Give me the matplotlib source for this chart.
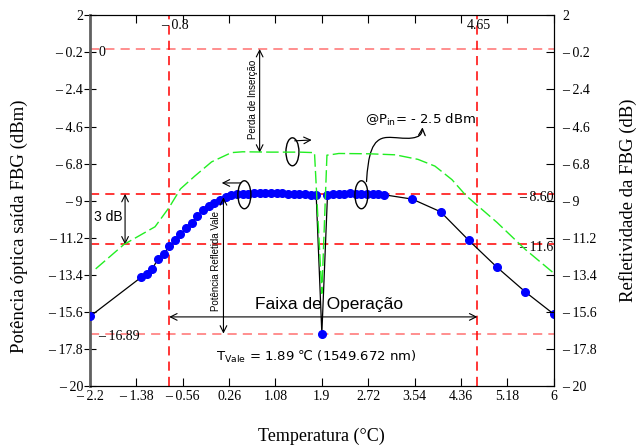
import numpy as np
import matplotlib.pyplot as plt
from matplotlib.patches import Ellipse, FancyArrowPatch
from matplotlib.path import Path

plt.rcParams['font.family'] = 'Liberation Serif'
plt.rcParams['mathtext.fontset'] = 'dejavusans'

# measured output power (dBm) vs temperature
temp = [-2.2, -1.3, -1.2, -1.1, -1.0, -0.9, -0.8, -0.7, -0.6, -0.5, -0.4, -0.3,
        -0.2, -0.1, 0.0, 0.1, 0.2, 0.3, 0.4, 0.5, 0.6, 0.7, 0.8, 0.9, 1.0, 1.1,
        1.2, 1.3, 1.4, 1.5, 1.6, 1.7, 1.8, 1.9, 2.0, 2.1, 2.2, 2.3, 2.4, 2.5,
        2.6, 2.7, 2.8, 2.9, 3.0, 3.5, 4.0, 4.5, 5.0, 5.5, 6.0]
power = [-15.87, -13.56, -13.34, -13.06, -12.47, -12.17, -11.72, -11.32, -10.99,
         -10.63, -10.30, -9.90, -9.54, -9.31, -9.11, -8.95, -8.79, -8.67, -8.62,
         -8.60, -8.58, -8.57, -8.56, -8.57, -8.56, -8.55, -8.57, -8.58, -8.60,
         -8.62, -8.63, -8.65, -8.66, -16.89, -8.66, -8.62, -8.60, -8.58, -8.57,
         -8.58, -8.59, -8.60, -8.62, -8.63, -8.65, -8.91, -9.66, -11.36, -12.96,
         -14.42, -15.73]

# FBG reflectivity (dB)
refl_t = [-2.1, -1.6, -1.05, -0.8, -0.6, -0.35, -0.05, 0.3, 0.5, 1.0, 1.5, 1.77,
          1.9, 1.99, 2.05, 2.2, 2.75, 3.2, 3.6, 3.9, 4.2, 4.45, 5.0, 5.5, 6.0]
refl = [-13.05, -11.6, -10.55, -9.4, -8.3, -7.55, -6.7, -6.15, -6.1, -6.12,
        -6.12, -6.15, -14.5, -6.3, -6.28, -6.2, -6.22, -6.28, -6.55, -6.95,
        -7.75, -8.7, -10.3, -11.9, -13.3]

xticks = [-2.2, -1.38, -0.56, 0.26, 1.08, 1.9, 2.72, 3.54, 4.36, 5.18, 6]
yticks = [2, -0.2, -2.4, -4.6, -6.8, -9, -11.2, -13.4, -15.6, -17.8, -20]

t_low, t_high = -0.8, 4.65
p_ref, p_max, p_3db, p_vale = 0, -8.60, -11.6, -16.89


def fmt(v):
    s = ('%g' % abs(v))
    return ('\u2013 ' + s) if v < 0 else s


fig = plt.figure(figsize=(6.37, 4.45), dpi=100)
ax = fig.add_axes([0.1413, 0.1326, 0.7279, 0.833])
ax2 = ax.twinx()

ax.set_xlim(-2.2, 6)
ax.set_ylim(-20, 2)
ax2.set_ylim(-20, 2)

# reference lines
for y, c in [(p_ref, '#ff7070'), (p_max, 'red'), (p_3db, 'red'), (p_vale, '#ff7070')]:
    ax.axhline(y, color=c, lw=1.1, ls=(0, (6, 4)), zorder=1)
for x in [t_low, t_high]:
    ax.axvline(x, color='red', lw=1.1, ls=(0, (6, 4)), zorder=1)

ax2.plot(refl_t, refl, color='#22ee22', lw=1.0, ls=(0, (9, 3)), zorder=2)
ax.plot(temp, power, color='black', lw=0.9, marker='o', ms=5.5,
        mfc='blue', mec='blue', zorder=3)

ax.set_xticks(xticks)
ax.set_xticklabels([fmt(v) for v in xticks])
ax.set_yticks(yticks)
ax.set_yticklabels([fmt(v) for v in yticks])
ax2.set_yticks(yticks)
ax2.set_yticklabels([fmt(v) for v in yticks])
ax.tick_params(axis='x', direction='in', length=6, top=True, labelsize=10, pad=3)
ax.tick_params(axis='y', direction='inout', length=8, labelsize=10, pad=1)
ax2.tick_params(axis='y', direction='in', length=6, labelsize=10, pad=6)
ax.spines['left'].set_color('#606060')
ax.spines['left'].set_linewidth(2)
ax2.spines['left'].set_visible(False)

ax.set_xlabel('Temperatura (°C)', fontsize=13)
ax.xaxis.set_label_coords(0.5, -0.112)
ax.set_ylabel('Potência óptica saída FBG (dBm)', fontsize=13.5)
ax.yaxis.set_label_coords(-0.134, 0.43)
ax2.set_ylabel('Refletividade da FBG (dB)', fontsize=13.5, rotation=90)
ax2.yaxis.set_label_coords(1.142, 0.5)

# value labels
ax.text(t_low + 0.1, 1.4, fmt(t_low), fontsize=10, ha='center', va='center')
ax.text(t_high + 0.02, 1.4, '4.65', fontsize=10, ha='center', va='center')
ax.text(-2.05, -0.2, '0', fontsize=10, ha='left', va='center')
ax.text(-2.05, -17.05, '\u2013 16.89', fontsize=10, ha='left', va='center')
ax.text(6.0, -8.83, '\u2013 8.60', fontsize=10, ha='right', va='center')
ax.text(6.0, -11.8, '\u2013 11.6', fontsize=10, ha='right', va='center')

sans = 'Liberation Sans'
arr = dict(arrowstyle='<->', lw=0.8, color='black', shrinkA=0, shrinkB=0,
           mutation_scale=12)

# 3 dB
ax.annotate('', xy=(-1.58, p_max), xytext=(-1.58, p_3db), arrowprops=arr)
ax.text(-1.87, -9.95, '3 dB', family=sans, fontsize=10, ha='center', va='center')

# valley reflected power
ax.annotate('', xy=(0.16, -8.8), xytext=(0.16, p_vale), arrowprops=arr)
ax.text(0.03, -12.6, 'Potência Refletida Vale', family=sans, fontsize=7,
        rotation=90, ha='center', va='center')

# insertion loss
ax.annotate('', xy=(0.8, p_ref), xytext=(0.8, -6.15), arrowprops=arr)
ax.text(0.68, -3.0, 'Perda de Inserção', family=sans, fontsize=7,
        rotation=90, ha='center', va='center')

# operating range
ax.annotate('', xy=(t_low, -15.9), xytext=(t_high, -15.9), arrowprops=arr)
ax.text(2.02, -15.15, 'Faixa de Operação', family=sans, fontsize=12.5,
        ha='center', va='center')
ax.text(1.81, -18.25, r'T$_{\mathrm{Vale}}$ = 1.89 ℃ (1549.672 nm)',
        family='DejaVu Sans', fontsize=9.5, ha='center', va='center')

ax.text(2.66, -4.2, r'@P$_{\mathrm{in}}$= - 2.5 dBm', family='DejaVu Sans',
        fontsize=9.5, ha='left', va='center')

# ellipses marking curves
for cx, cy in [(0.53, -8.65), (1.38, -6.1), (2.6, -8.65)]:
    ax.add_patch(Ellipse((cx, cy), 0.23, 1.66, fill=False, lw=1.0,
                         color='black', zorder=4))
one = dict(arrowstyle='->', lw=0.8, color='black', shrinkA=0, shrinkB=0,
           mutation_scale=12)
ax.annotate('', xy=(0.13, -7.95), xytext=(0.47, -7.95), arrowprops=one)
ax.annotate('', xy=(1.72, -5.4), xytext=(1.42, -5.45), arrowprops=one)

verts = [(2.69, -7.87), (2.72, -6.3), (2.78, -5.3), (3.05, -5.25),
         (3.2, -5.22), (3.35, -5.35), (3.5, -5.28),
         (3.62, -5.22), (3.67, -5.1), (3.68, -4.65)]
codes = [Path.MOVETO] + [Path.CURVE4] * 9
ax.add_patch(FancyArrowPatch(path=Path(verts, codes), arrowstyle='->',
                             lw=0.9, color='black', mutation_scale=12, zorder=4))

fig.savefig('out.png', dpi=100)
